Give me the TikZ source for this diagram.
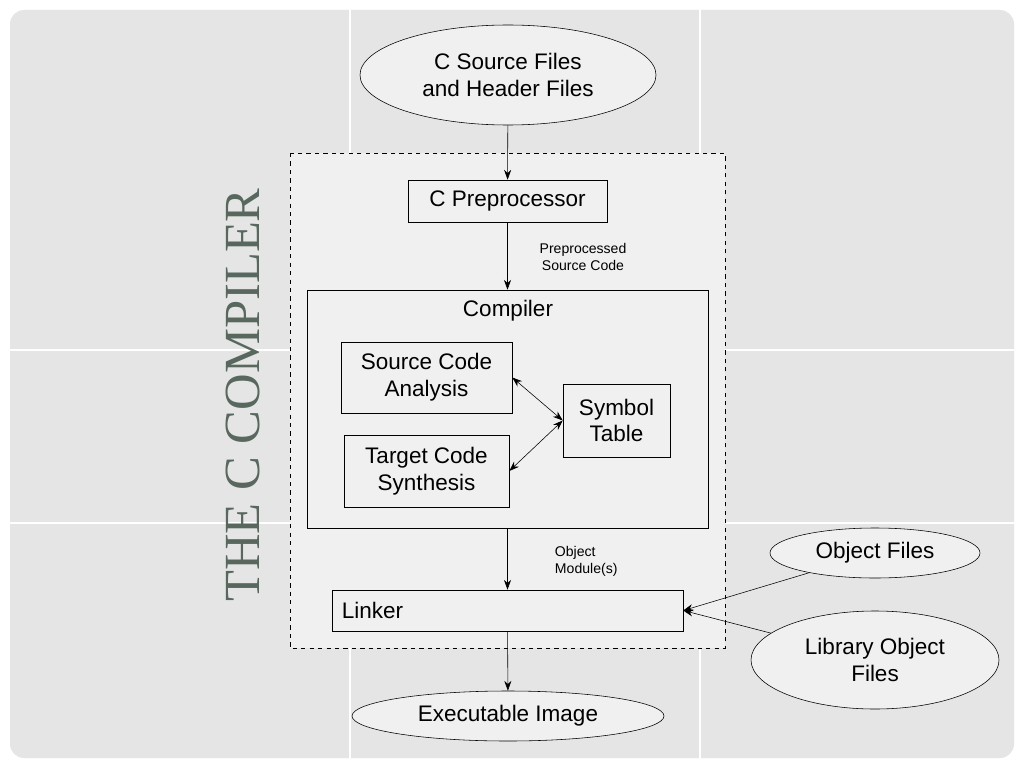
\documentclass[tikz,border=0pt]{standalone}
\usepackage{fontspec}
\setmainfont{Liberation Sans}
\newfontfamily\titlefont{Liberation Serif}
\usetikzlibrary{shapes.geometric,arrows.meta}
\definecolor{titlegray}{RGB}{88,104,94}

\tikzset{
    box/.style={draw, fill=gray!12, inner sep=0pt, align=center, font=\fontsize{16}{19}\selectfont},
    oval/.style={draw, ellipse, fill=gray!12, inner sep=0pt, align=center, font=\fontsize{16}{19}\selectfont},
    note/.style={align=left, font=\fontsize{10}{12}\selectfont},
    flow/.style={-{Stealth[length=7pt,width=5pt]}},
    twoway/.style={{Stealth[length=7pt,width=5pt]}-{Stealth[length=7pt,width=5pt]}}
}

\begin{document}
\begin{tikzpicture}[x=0.025cm, y=-0.025cm]
    % Background and faint grid
    \useasboundingbox (0,0) rectangle (1024,768);
    \fill[white] (0,0) rectangle (1024,768);
    \fill[gray!20, rounded corners=10] (10,10) rectangle (1014,758);
    \foreach \x in {350, 700} {
        \draw[white, line width=0.8pt] (\x,10) -- (\x,758);
    }
    \foreach \y in {350, 523} {
        \draw[white, line width=0.8pt] (10,\y) -- (1014,\y);
    }

    % Title
    \node[rotate=90, text=titlegray, font=\titlefont\fontsize{36}{40}\selectfont] (title) at (243,395) {THE C COMPILER};

    % Outer dashed frame and compiler box
    \draw[dashed, fill=gray!12] (290,153) rectangle (725,648);
    \node[draw, fill=gray!12, minimum width=401*0.025cm, minimum height=238*0.025cm] (compiler) at (507.5,409) {};
    \node[font=\fontsize{16}{19}\selectfont] (complabel) at (508,311) {Compiler};

    % Nodes
    \node[oval, minimum width=296*0.025cm, minimum height=100*0.025cm] (source) at (508,75) {C Source Files\\and Header Files};
    \node[box, minimum width=199*0.025cm, minimum height=42*0.025cm] (prep) at (507.5,201) {C Preprocessor};
    \node[box, minimum width=171*0.025cm, minimum height=71*0.025cm] (analysis) at (426.5,377.5) {Source Code\\Analysis};
    \node[box, minimum width=165*0.025cm, minimum height=72*0.025cm] (synth) at (426.5,471) {Target Code\\Synthesis};
    \node[box, minimum width=107*0.025cm, minimum height=73*0.025cm] (symtab) at (616.5,420.5) {Symbol\\Table};
    \node[box, minimum width=351*0.025cm, minimum height=41*0.025cm] (linker) at (507.5,610.5) {};
    \node[font=\fontsize{16}{19}\selectfont, anchor=west] (linklabel) at (337,610.5) {Linker};
    \node[oval, minimum width=210*0.025cm, minimum height=50*0.025cm] (objfiles) at (875,553) {Object Files};
    \node[oval, minimum width=248*0.025cm, minimum height=98*0.025cm] (libfiles) at (875,660) {Library Object\\Files};
    \node[oval, minimum width=312*0.025cm, minimum height=50*0.025cm] (exe) at (508,716) {Executable Image};

    % Labels
    \node[note, align=center] (preplabel) at (583,257) {Preprocessed\\Source Code};
    \node[note, anchor=west] (objlabel) at (550,561) {Object\\Module(s)};

    % Connectors
    \draw[flow] (source) -- (prep);
    \draw[flow] (prep) -- (compiler);
    \draw[flow] (compiler) -- (linker);
    \draw[flow] (linker) -- (exe);
    \draw[flow] (objfiles) -- (linker.east);
    \draw[flow] (libfiles) -- (linker.east);
    \draw[twoway] (analysis.east) -- (symtab.west);
    \draw[twoway] (synth.east) -- (symtab.west);
\end{tikzpicture}
\end{document}
